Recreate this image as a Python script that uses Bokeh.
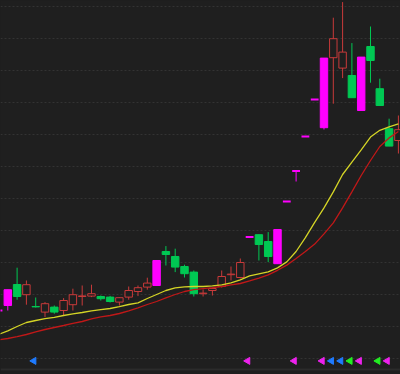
from bokeh.plotting import figure
from bokeh.models import ColumnDataSource, Range1d, FixedTicker, Span, GlobalInlineStyleSheet
from bokeh.embed import file_html
from bokeh.resources import INLINE

# ---- data ----
kind = ["limit", "limit", "down", "up", "down", "up", "down", "up", "up", "up",
        "up", "down", "down", "up", "up", "up", "up", "limit", "down", "down",
        "down", "down", "up", "up", "up", "up", "up", "limit", "down", "down",
        "limit", "limit", "limit", "limit", "limit", "limit", "up", "up", "down", "limit",
        "down", "down", "down", "up"]
opens = [9.55, 9.80, 10.85, 10.34, 9.75, 9.47, 9.72, 9.55, 9.84, 10.25,
         10.27, 10.25, 10.22, 9.97, 10.22, 10.50, 10.72, 10.80, 12.50, 12.25,
         11.75, 11.47, 10.39, 10.55, 10.75, 11.34, 11.20, 13.22, 13.34, 13.00,
         11.89, 15.00, 16.52, 18.25, 20.10, 18.69, 22.19, 21.67, 21.30, 19.55,
         22.75, 20.64, 18.64, 18.05]
closes = [9.55, 10.59, 10.25, 10.84, 9.73, 9.89, 9.47, 10.05, 10.34, 10.28,
          10.39, 10.14, 10.00, 10.19, 10.55, 10.69, 10.92, 12.05, 12.35, 11.72,
          11.39, 10.39, 10.42, 10.65, 11.25, 11.37, 11.95, 13.22, 12.85, 12.25,
          13.60, 15.00, 16.52, 18.25, 20.10, 22.17, 23.14, 22.47, 20.19, 22.22,
          22.05, 19.80, 17.77, 18.59]
highs = [9.55, 10.59, 11.69, 11.05, 10.20, 9.97, 9.80, 10.17, 10.64, 10.80,
         10.84, 10.30, 10.28, 10.20, 10.75, 10.80, 11.19, 12.05, 12.77, 12.64,
         11.84, 11.55, 10.60, 10.65, 11.55, 11.75, 12.15, 13.22, 13.35, 13.47,
         13.60, 15.00, 16.52, 18.25, 20.10, 22.17, 24.19, 24.97, 22.92, 22.22,
         23.75, 21.14, 19.14, 19.30]
lows = [9.55, 9.55, 10.09, 9.84, 9.70, 9.22, 9.39, 9.30, 9.55, 9.80,
        10.22, 10.05, 9.95, 9.80, 10.09, 10.27, 10.59, 10.78, 11.80, 11.47,
        11.20, 10.25, 10.25, 10.30, 10.70, 11.05, 11.15, 13.22, 12.05, 11.97,
        11.89, 15.00, 16.00, 18.25, 20.10, 18.60, 19.89, 21.17, 20.19, 19.55,
        20.94, 19.80, 17.77, 17.40]
ma_fast = [8.35, 8.53, 8.75, 8.95, 9.05, 9.14, 9.21, 9.30, 9.38, 9.45,
           9.53, 9.59, 9.65, 9.74, 9.85, 9.93, 10.15, 10.35, 10.55, 10.68,
           10.73, 10.75, 10.75, 10.78, 10.83, 10.93, 11.08, 11.28, 11.38, 11.48,
           11.68, 11.98, 12.50, 13.19, 13.96, 14.68, 15.48, 16.35, 16.97, 17.58,
           18.22, 18.56, 18.73, 18.88]
ma_slow = [8.08, 8.15, 8.24, 8.35, 8.48, 8.60, 8.70, 8.80, 8.91, 9.00,
           9.13, 9.23, 9.30, 9.40, 9.53, 9.68, 9.85, 10.00, 10.18, 10.35,
           10.50, 10.59, 10.64, 10.69, 10.75, 10.83, 10.90, 11.03, 11.17, 11.33,
           11.56, 11.82, 12.15, 12.50, 12.87, 13.38, 13.93, 14.68, 15.48, 16.30,
           17.05, 17.75, 18.18, 18.50]
signal_idx = [4, 27, 32, 35, 36, 37, 38, 39, 41, 42]
signal_kind = ["blue", "magenta", "magenta", "magenta", "blue", "blue", "green",
               "magenta", "green", "magenta"]
signal_level = 7.03
grid_levels = [24.75, 23.15, 21.55, 19.95, 18.35, 16.75, 15.15, 13.55, 11.95,
               10.35, 8.75, 7.15]
base_level = 6.6

# ---- styles ----
BG = "#1f1f1f"
kind_color = {"up": "#c83a3a", "down": "#00c853", "limit": "#ff00ff"}
sig_color = {"blue": "#1f7bff", "magenta": "#ee22ee", "green": "#22ee22"}

n = len(opens)
xs = list(range(n))
colors = [kind_color[k] for k in kind]
fills = [BG if k == "up" else kind_color[k] for k in kind]
tops = [max(o, c) for o, c in zip(opens, closes)]
bots = [min(o, c) for o, c in zip(opens, closes)]

p = figure(width=400, height=374, output_backend="svg", toolbar_location=None,
           x_range=Range1d(0.215, 43.226), y_range=Range1d(6.35, 25.05),
           min_border=0, background_fill_color=BG, border_fill_color=BG)
p.outline_line_color = None
p.axis.visible = False
p.xgrid.visible = False
p.ygrid.ticker = FixedTicker(ticks=grid_levels)
p.ygrid.grid_line_color = "#333333"
p.ygrid.grid_line_dash = "2 2"
p.ygrid.grid_line_width = 1

p.add_layout(Span(location=base_level, dimension="width", line_color="#2b2b2b", line_width=2))

# wicks
p.segment(x0=xs, y0=lows, x1=xs, y1=highs, line_color=colors, line_width=1)

# bodies
body_idx = [i for i in range(n) if tops[i] > bots[i]]
src = ColumnDataSource(dict(
    x=[xs[i] for i in body_idx], top=[tops[i] for i in body_idx],
    bottom=[bots[i] for i in body_idx], fill=[fills[i] for i in body_idx],
    line=[colors[i] for i in body_idx]))
p.vbar(x="x", width=0.8, top="top", bottom="bottom", fill_color="fill",
       line_color="line", line_width=1, source=src)

# one-price bars
flat_idx = [i for i in range(n) if tops[i] == bots[i]]
p.segment(x0=[xs[i] - 0.42 for i in flat_idx], y0=[opens[i] for i in flat_idx],
          x1=[xs[i] + 0.42 for i in flat_idx], y1=[opens[i] for i in flat_idx],
          line_color=[colors[i] for i in flat_idx], line_width=2)

# moving averages
p.line(xs, ma_slow, line_color="#c01818", line_width=1.3)
p.line(xs, ma_fast, line_color="#d4d426", line_width=1.3)

# signal flags
p.scatter(x=[xs[i] - 0.2 for i in signal_idx], y=[signal_level] * len(signal_idx),
          marker="triangle", size=7, angle=1.5708,
          fill_color=[sig_color[k] for k in signal_kind],
          line_color=[sig_color[k] for k in signal_kind])

p.stylesheets = [GlobalInlineStyleSheet(
    css="html, body { background: #1f1f1f; overflow: hidden; }")]

open("out.html", "w").write(file_html(p, INLINE))
